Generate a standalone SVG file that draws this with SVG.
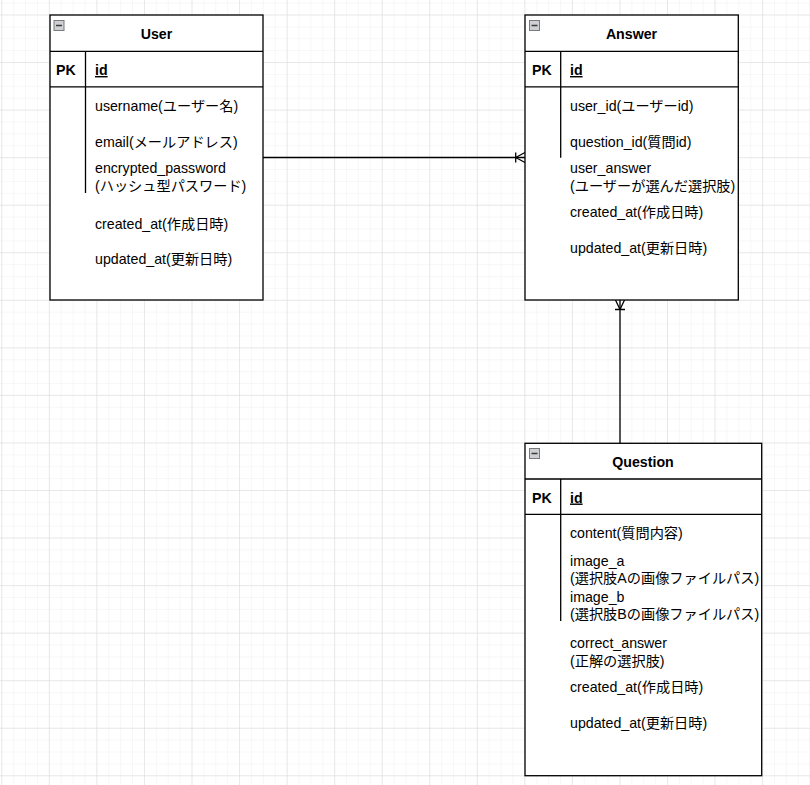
<svg xmlns="http://www.w3.org/2000/svg" width="810" height="785" viewBox="0 0 810 785">
<style>
.box{fill:#fff;stroke:#000;stroke-width:1.3}
.ln{stroke:#000;stroke-width:1.3;fill:none}
.t{font-family:"Liberation Sans","Noto Sans CJK JP",sans-serif;font-size:14.2px;fill:#000}
.b{font-weight:bold}
.c{text-anchor:middle}
.u{text-decoration:underline}
.icon{fill:#cfd0d4;stroke:#7a7a7a;stroke-width:1}
.minus{stroke:#3a3a3a;stroke-width:1.5}
.conn{stroke:#000;stroke-width:1.3;fill:none}
</style>
<defs>
<pattern id="minor" x="1.3" y="14.5" width="11.8875" height="11.8875" patternUnits="userSpaceOnUse">
<path d="M0 0H11.8875M0 0V11.8875" stroke="#f0f0f0" stroke-width="1" fill="none"/>
</pattern>
<pattern id="major" x="1.3" y="14.5" width="47.55" height="47.55" patternUnits="userSpaceOnUse">
<path d="M0 0H47.55M0 0V47.55" stroke="#dadada" stroke-width="1" fill="none"/>
</pattern>
</defs>
<rect width="810" height="785" fill="#fff"/>
<rect width="810" height="785" fill="url(#minor)"/>
<rect width="810" height="785" fill="url(#major)"/>

<g id="connectors">
<path class="conn" d="M263 157.5H525"/>
<path class="conn" d="M515.7 152.5V162.5M515.7 157.5L525 152.5M515.7 157.5L525 162.5"/>
<path class="conn" d="M620 300V443.3"/>
<path class="conn" d="M615 309.5H625M620 309.5L615.5 300M620 309.5L624.5 300"/>
</g>

<g id="node-user">
<rect class="box" x="50" y="15" width="213" height="285"/>
<path class="ln" d="M50 51.3H263M50 86.8H263M85.5 51.3V193"/>
<rect class="icon" x="54" y="20.5" width="10" height="10"/>
<path class="minus" d="M56 25.5H62"/>
<text class="t b c" x="156.5" y="39">User</text>
<text class="t b" x="56" y="75">PK</text>
<text class="t b u" x="95" y="75">id</text>
<text class="t" x="95" y="110.5">username(ユーザー名)</text>
<text class="t" x="95" y="146.5">email(メールアドレス)</text>
<text class="t" x="95" y="173">encrypted_password</text>
<text class="t" x="95" y="190.5">(ハッシュ型パスワード)</text>
<text class="t" x="95" y="229">created_at(作成日時)</text>
<text class="t" x="95" y="264">updated_at(更新日時)</text>
</g>

<g id="node-answer">
<rect class="box" x="525" y="15" width="213.3" height="285"/>
<path class="ln" d="M525 51.3H738.3M525 86.8H738.3M560.7 51.3V157.7"/>
<rect class="icon" x="529.5" y="20.5" width="10" height="10"/>
<path class="minus" d="M531.5 25.5H537.5"/>
<text class="t b c" x="631.5" y="39">Answer</text>
<text class="t b" x="532" y="75">PK</text>
<text class="t b u" x="570" y="75">id</text>
<text class="t" x="570" y="110.5">user_id(ユーザーid)</text>
<text class="t" x="570" y="146.5">question_id(質問id)</text>
<text class="t" x="570" y="173">user_answer</text>
<text class="t" x="570" y="190.5">(ユーザーが選んだ選択肢)</text>
<text class="t" x="570" y="216.5">created_at(作成日時)</text>
<text class="t" x="570" y="252.5">updated_at(更新日時)</text>
</g>

<g id="node-question">
<rect class="box" x="525" y="443.3" width="236.7" height="332.4"/>
<path class="ln" d="M525 479H761.7M525 514.3H761.7M560.7 479V621"/>
<rect class="icon" x="529.5" y="448.5" width="10" height="10"/>
<path class="minus" d="M531.5 453.5H537.5"/>
<text class="t b c" x="643" y="466.5">Question</text>
<text class="t b" x="532" y="502.5">PK</text>
<text class="t b u" x="570" y="502.5">id</text>
<text class="t" x="570" y="538">content(質問内容)</text>
<text class="t" x="570" y="565.5">image_a</text>
<text class="t" x="570" y="583">(選択肢Aの画像ファイルパス)</text>
<text class="t" x="570" y="601.5">image_b</text>
<text class="t" x="570" y="618.5">(選択肢Bの画像ファイルパス)</text>
<text class="t" x="570" y="648">correct_answer</text>
<text class="t" x="570" y="665.5">(正解の選択肢)</text>
<text class="t" x="570" y="692">created_at(作成日時)</text>
<text class="t" x="570" y="728">updated_at(更新日時)</text>
</g>
</svg>
